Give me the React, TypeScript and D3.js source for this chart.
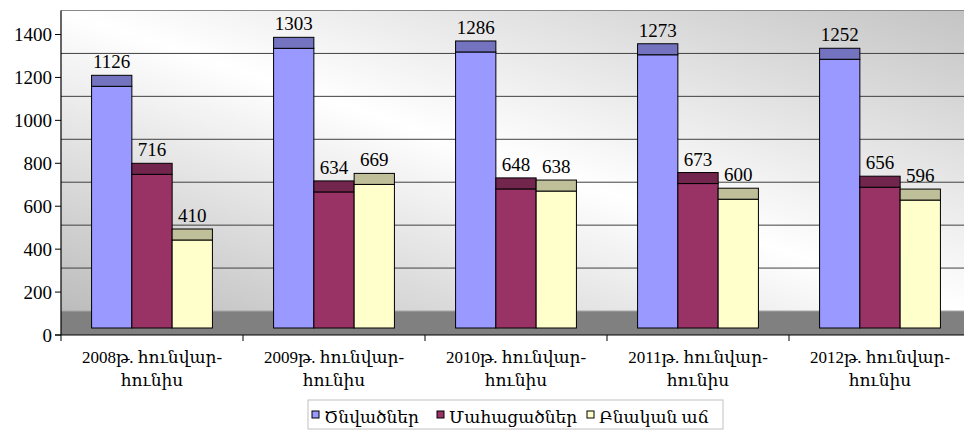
import React from "react";
import * as d3 from "d3";

const categories = ["2008", "2009", "2010", "2011", "2012"];
const births = [1126, 1303, 1286, 1273, 1252];
const deaths = [716, 634, 648, 673, 656];
const growth = [410, 669, 638, 600, 596];
const seriesNames = ["Ծնվածներ", "Մահացածներ", "Բնական աճ"];
const yTicks = [0, 200, 400, 600, 800, 1000, 1200, 1400];
const gridValues = [200, 400, 600, 800, 1000, 1200];

const frontColors = ["#9999FF", "#993366", "#FFFFCC"];
const topColors = ["#7373BF", "#73264D", "#BFBF99"];

const W = 964;
const H = 430;
const FONT = '"Liberation Serif", "DejaVu Serif", "Times New Roman", serif';

const App = () => {
  const series = [births, deaths, growth];

  // front axis scale, bars sit a bit behind it, back wall further back
  const y = d3.scaleLinear().domain([0, 1400]).range([335, 34.5]);
  const barShift = 7;
  const wallShift = 24;
  const depth = 11;
  const axisX = 61;
  const catW = 182;

  const x = d3
    .scaleBand<string>()
    .domain(categories)
    .range([axisX, axisX + catW * categories.length])
    .padding(0);
  const bw = x.bandwidth();
  const inner = d3
    .scaleBand<number>()
    .domain([0, 1, 2])
    .range([bw * 0.168, bw * 0.832])
    .padding(0);

  const wallTop = y(1400) - wallShift;
  const wallBottom = y(0) - wallShift;
  const legendX = [312, 437, 587];
  const num = { fontFamily: FONT, fontSize: "19px" };
  const txt = { fontFamily: FONT, fontSize: "17px" };

  return (
    <svg
      width={W}
      height={H}
      style={{ position: "absolute", left: 0, top: 0, background: "#fff", fontFamily: FONT }}
    >
      <defs>
        <linearGradient id="wall" x1="1" y1="0" x2="0" y2="1">
          <stop offset="0" stopColor="#c4c4c4" />
          <stop offset="0.5" stopColor="#ffffff" />
          <stop offset="1" stopColor="#bcbcbc" />
        </linearGradient>
      </defs>

      {/* back wall */}
      <rect x={axisX} y={wallTop} width={W - axisX} height={wallBottom - wallTop} fill="url(#wall)" />
      <line x1={axisX} x2={W} y1={wallTop} y2={wallTop} stroke="#8a8a8a" strokeWidth={1.2} />
      {gridValues.map((v) => (
        <line
          key={v}
          x1={axisX}
          x2={W}
          y1={y(v) - wallShift}
          y2={y(v) - wallShift}
          stroke="#404040"
          strokeWidth={1}
        />
      ))}

      {/* floor */}
      <rect x={axisX} y={wallBottom} width={W - axisX} height={y(0) - wallBottom} fill="#808080" />
      <line x1={axisX} x2={W} y1={wallBottom} y2={wallBottom} stroke="#a6a6a6" strokeWidth={1} />

      {/* bars */}
      {categories.map((c, ci) => (
        <g key={c} transform={`translate(${x(c)},0)`}>
          {series.map((vals, si) => {
            const bx = inner(si) as number;
            const w = inner.bandwidth();
            const top = y(vals[ci]) - barShift;
            const base = y(0) - barShift;
            return (
              <g key={si}>
                <rect x={bx} y={top} width={w} height={base - top} fill={frontColors[si]} stroke="#000" strokeWidth={1} />
                <rect x={bx} y={top - depth} width={w} height={depth} fill={topColors[si]} stroke="#000" strokeWidth={1} />
                <text x={bx + w / 2} y={top - depth - 7} textAnchor="middle" style={num} fill="#000">
                  {vals[ci]}
                </text>
              </g>
            );
          })}
        </g>
      ))}

      {/* y axis */}
      <line x1={axisX} x2={axisX} y1={wallTop} y2={y(0)} stroke="#000" strokeWidth={1.2} />
      {yTicks.map((t) => (
        <g key={t}>
          <line x1={axisX - 6} x2={axisX} y1={y(t)} y2={y(t)} stroke="#000" />
          <text x={axisX - 9} y={y(t)} dy="0.35em" textAnchor="end" style={num} fill="#000">
            {t}
          </text>
        </g>
      ))}

      {/* x axis */}
      <line x1={axisX - 6} x2={W} y1={y(0)} y2={y(0)} stroke="#000" strokeWidth={1.2} />
      {categories.map((c) => (
        <line key={c} x1={x(c)} x2={x(c)} y1={y(0)} y2={y(0) + 6} stroke="#000" />
      ))}
      <line x1={axisX + catW * 5} x2={axisX + catW * 5} y1={y(0)} y2={y(0) + 6} stroke="#000" />
      {categories.map((c) => (
        <text key={c} textAnchor="middle" style={txt} fill="#000">
          <tspan x={(x(c) as number) + bw / 2} y={363}>{`${c}թ. հունվար-`}</tspan>
          <tspan x={(x(c) as number) + bw / 2} y={386}>հունիս</tspan>
        </text>
      ))}

      {/* legend */}
      <rect x={308} y={400} width={415} height={29} fill="#fff" stroke="#c0c0c0" strokeWidth={1} />
      {seriesNames.map((n, i) => (
        <g key={n}>
          <rect x={legendX[i]} y={411} width={7} height={7} fill={frontColors[i]} stroke="#000" strokeWidth={1} />
          <text x={legendX[i] + 12} y={422.5} style={txt} fill="#000">
            {n}
          </text>
        </g>
      ))}
    </svg>
  );
};

export default App;
